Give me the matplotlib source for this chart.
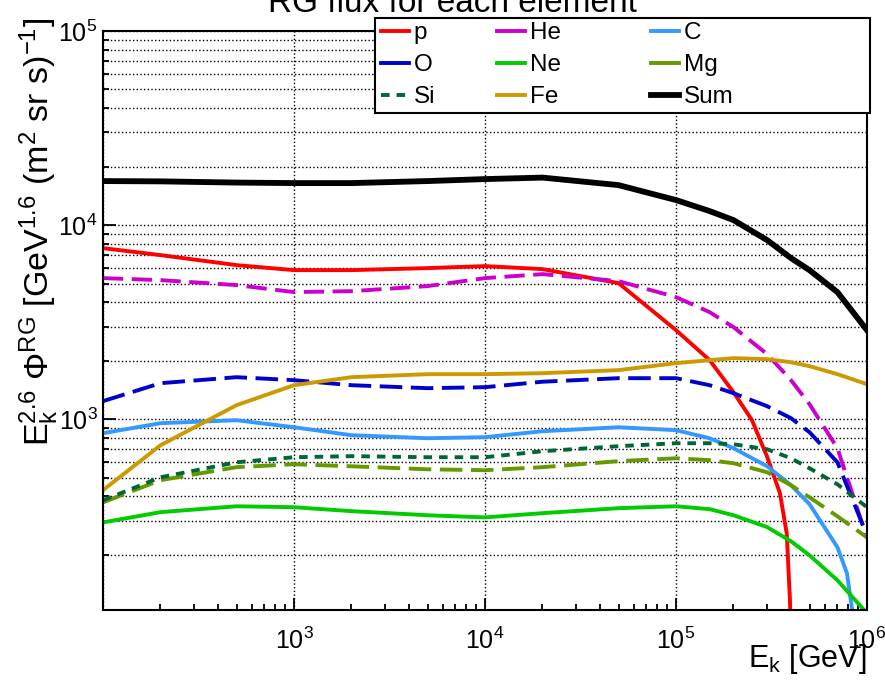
import matplotlib
matplotlib.use('Agg')
import matplotlib.pyplot as plt
import numpy as np
from matplotlib.ticker import LogLocator, NullFormatter, FixedLocator
from matplotlib.patches import Rectangle
from matplotlib.lines import Line2D

plt.rcParams['font.family'] = ['Liberation Sans', 'DejaVu Sans']
plt.rcParams['mathtext.fontset'] = 'custom'
plt.rcParams['mathtext.rm'] = 'Liberation Sans'
plt.rcParams['mathtext.it'] = 'Liberation Sans:italic'
plt.rcParams['mathtext.bf'] = 'Liberation Sans:bold'

# kinetic energy grid [GeV]
E = [1e2, 2e2, 5e2, 1e3, 2e3, 5e3, 1e4, 2e4, 5e4, 1e5, 1.5e5, 2e5, 3e5, 4e5, 5e5, 7e5, 1e6]

# E^2.6 * flux for each element
E_p = [1e2, 2e2, 5e2, 1e3, 2e3, 5e3, 1e4, 2e4, 5e4, 1e5, 1.5e5, 2e5, 2.5e5, 3e5, 3.5e5, 3.8e5, 3.95e5, 4.05e5]
flux_p = [7610, 7005, 6220, 5862, 5862, 6003, 6148, 5933, 5024, 2876, 2014, 1377, 988, 640, 416, 258, 117, 50]
flux_He = [5332, 5206, 4909, 4518, 4568, 4849, 5332, 5590, 5145, 4256, 3560, 2980, 2163, 1589, 1195, 709, 244]
E_C = [1e2, 2e2, 5e2, 1e3, 2e3, 5e3, 1e4, 2e4, 5e4, 1e5, 1.5e5, 2e5, 3e5, 4e5, 5e5, 7e5, 7.85e5, 8.34e5, 8.6e5]
flux_C = [847, 954, 988, 909, 827, 798, 808, 867, 909, 878, 798, 709, 572, 457, 365, 219, 161, 106, 60]
flux_O = [1239, 1533, 1646, 1589, 1497, 1445, 1462, 1560, 1627, 1627, 1497, 1361, 1167, 1012, 857, 600, 252]
flux_Ne = [294, 332, 356, 352, 336, 320, 312, 328, 348, 356, 344, 320, 278, 235, 199, 148, 100]
flux_Mg = [373, 485, 566, 586, 572, 552, 546, 566, 608, 629, 615, 593, 533, 457, 396, 316, 246]
flux_Si = [382, 502, 600, 637, 645, 637, 637, 684, 726, 752, 752, 743, 700, 629, 559, 462, 352]
flux_Fe = [431, 734, 1181, 1497, 1646, 1706, 1706, 1726, 1790, 1944, 2014, 2063, 2038, 1966, 1876, 1706, 1515]
flux_sum = [16860, 16800, 16560, 16460, 16460, 16860, 17260, 17570, 16070, 13460, 11810, 10610, 8370, 6760, 5860, 4515, 2876]

W, H = 885, 681
fig = plt.figure(figsize=(W / 100, H / 100), dpi=100)
ax = fig.add_axes([103 / W, 1 - 610 / H, (867 - 103) / W, (610 - 31) / H])

lw = 2.8
lines = {}
lines['p'], = ax.plot(E_p, flux_p, color='#ff0000', lw=lw)
lines['He'], = ax.plot(E, flux_He, color='#cc00cc', lw=lw, dashes=(5.2, 2.2))
lines['C'], = ax.plot(E_C, flux_C, color='#3399ff', lw=lw)
lines['O'], = ax.plot(E, flux_O, color='#0000cc', lw=lw, dashes=(5.8, 2.2))
lines['Ne'], = ax.plot(E, flux_Ne, color='#00cc00', lw=lw)
lines['Mg'], = ax.plot(E, flux_Mg, color='#669900', lw=lw, dashes=(5.8, 2.2))
lines['Si'], = ax.plot(E, flux_Si, color='#006633', lw=lw, dashes=(2.2, 1.8))
lines['Fe'], = ax.plot(E, flux_Fe, color='#cc9900', lw=lw)
lines['Sum'], = ax.plot(E, flux_sum, color='black', lw=4.2)

ax.set_xscale('log')
ax.set_yscale('log')
ax.set_xlim(100, 1e6)
ax.set_ylim(104, 1e5)

ax.xaxis.set_major_locator(FixedLocator([1e2, 1e3, 1e4, 1e5, 1e6]))
ax.set_xticklabels(['', r'$10^{3}$', r'$10^{4}$', r'$10^{5}$', r'$10^{6}$'])
ax.xaxis.set_minor_locator(LogLocator(base=10, subs=np.arange(2, 10)))
ax.xaxis.set_minor_formatter(NullFormatter())
ax.yaxis.set_major_locator(FixedLocator([1e3, 1e4, 1e5]))
ax.set_yticklabels([r'$10^{3}$', r'$10^{4}$', r'$10^{5}$'])
ax.yaxis.set_minor_locator(LogLocator(base=10, subs=np.arange(2, 10)))
ax.yaxis.set_minor_formatter(NullFormatter())

ax.tick_params(which='both', direction='in', top=False, right=False,
               width=1.3, labelsize=18)
ax.tick_params(which='major', length=9)
ax.tick_params(which='minor', length=4.5)
ax.tick_params(axis='x', which='major', pad=13)
ax.tick_params(axis='y', which='major', pad=4)
for s in ax.spines.values():
    s.set_linewidth(1.5)

ax.yaxis.grid(True, which='both', ls=':', color='black', lw=1)
ax.xaxis.grid(True, which='major', ls=':', color='black', lw=1)

fig.text(867 / W, 1 - 667 / H, r'$\mathrm{E_{k}\ [GeV]}$', ha='right',
         va='baseline', fontsize=22)
fig.text(61 / W, 1 - 18 / H,
         r'$\mathrm{E_{k}^{2.6}\ \Phi^{RG}\ [GeV^{1.6}\ (m^{2}\ sr\ s)^{-1}]}$',
         rotation=90, ha='right', va='top', fontsize=24.5)
fig.text(452 / W, 1 - 12 / H, 'RG flux for each element', ha='center',
         va='baseline', fontsize=24)

# legend: framed box with three columns, samples drawn solid except Si
box = Rectangle((375 / W, 1 - 113 / H), 495 / W, 95 / H, transform=fig.transFigure,
                facecolor='white', edgecolor='black', lw=1.5, zorder=4)
fig.patches.append(box)

def proxy(name):
    ln = lines[name]
    if name == 'Si':
        return Line2D([], [], color=ln.get_color(), lw=ln.get_linewidth(), dashes=(2.2, 1.8))
    return Line2D([], [], color=ln.get_color(), lw=ln.get_linewidth())

columns = [['p', 'O', 'Si'], ['He', 'Ne', 'Fe'], ['C', 'Mg', 'Sum']]
col_x = [381, 497, 651]
for names, cx in zip(columns, col_x):
    fig.legend([proxy(k) for k in names], names, loc='upper left',
               bbox_to_anchor=(cx / W, 1 - 22 / H), frameon=False,
               fontsize=17.5, borderpad=0, borderaxespad=0, handlelength=1.15,
               handletextpad=0.2, labelspacing=0.42)

fig.savefig('out.png', dpi=100)
